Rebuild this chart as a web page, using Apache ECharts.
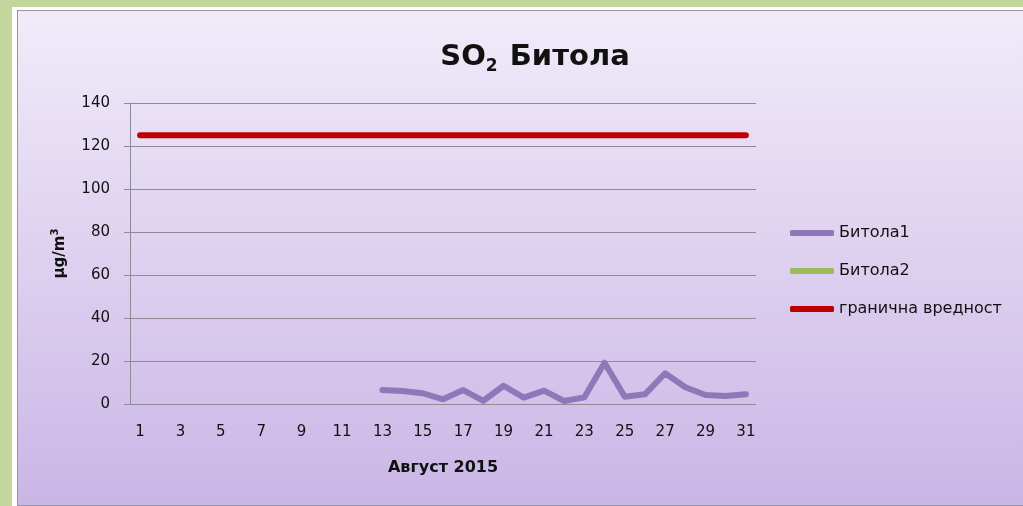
<html>
<head>
    <meta http-equiv="Content-Type" content="text/html; charset=utf-8" />
    <script src="https://cdn.jsdelivr.net/npm/echarts@6/dist/echarts.min.js"></script>
    <style>
        body {
            margin: 0;
            background-color: #c3d69b;
            overflow: hidden;
        }

        .frame {
            position: absolute;
            left: 12px;
            top: 7px;
            width: 1030px;
            height: 497px;
            background-color: #ffffff;
            padding: 3px 0 2px 5px;
        }

        #main {
            border: 1px solid #9a94a4;
            border-right: none;
            width: 1020px;
            height: 494px;
        }
    </style>
    <title></title>
</head>
<body>
    <div class="frame">
        <div id="main"></div>
    </div>
    <script type="text/javascript">

        //数据
        var days = [];
        for (var d = 1; d <= 31; d++) days.push(String(d));
        var bitola1 = [null, null, null, null, null, null, null, null, null, null, null, null,
            6.5, 6, 5, 2.2, 6.5, 1.5, 8.5, 3, 6.2, 1.4, 3.1, 19.2, 3.4, 4.5, 14.3, 7.8, 4.2, 3.7, 4.5];
        var bitola2 = [];
        var limitValue = [125, 125, 125, 125, 125, 125, 125, 125, 125, 125, 125, 125, 125, 125, 125, 125,
            125, 125, 125, 125, 125, 125, 125, 125, 125, 125, 125, 125, 125, 125, 125];
        var yTicks = [0, 20, 40, 60, 80, 100, 120, 140];
        var seriesNames = ['Битола1', 'Битола2', 'гранична вредност'];

        var font = 'DejaVu Sans';

        var option = {
            backgroundColor: {
                type: 'linear', x: 0, y: 0, x2: 0, y2: 1,
                colorStops: [{ offset: 0, color: '#f1ebf9' }, { offset: 1, color: '#cab6e6' }]
            },
            textStyle: { fontFamily: font },
            title: {
                left: 512,
                top: 23,
                textAlign: 'center',
                text: '{a|SO}{b|2}{a| Битола}',
                textStyle: {
                    rich: {
                        a: { fontFamily: font, fontSize: 29, fontWeight: 'bold', color: '#111', lineHeight: 36 },
                        b: { fontFamily: font, fontSize: 17, fontWeight: 'bold', color: '#111', lineHeight: 36, verticalAlign: 'bottom', padding: [14, 2, 0, 0] }
                    }
                }
            },
            legend: {
                orient: 'vertical',
                left: 767,
                top: 209,
                itemGap: 22,
                itemWidth: 44,
                itemHeight: 6,
                icon: 'roundRect',
                data: seriesNames,
                textStyle: { fontFamily: font, fontSize: 16, color: '#111' }
            },
            grid: {
                left: 112,
                top: 92,
                width: 626,
                height: 301
            },
            xAxis: {
                type: 'category',
                data: days,
                boundaryGap: true,
                name: 'Август 2015',
                nameLocation: 'middle',
                nameGap: 56,
                nameTextStyle: { fontFamily: font, fontSize: 16, fontWeight: 'bold', color: '#111' },
                axisLine: { show: false },
                axisTick: { show: false },
                axisLabel: { interval: 1, margin: 21, fontFamily: font, fontSize: 15, color: '#111' }
            },
            yAxis: {
                type: 'value',
                min: yTicks[0],
                max: yTicks[yTicks.length - 1],
                interval: 20,
                name: '{a|μg/m}{b|3}',
                nameLocation: 'middle',
                nameGap: 60,
                nameRotate: 90,
                nameTextStyle: {
                    rich: {
                        a: { fontFamily: font, fontSize: 15, fontWeight: 'bold', color: '#111', lineHeight: 20 },
                        b: { fontFamily: font, fontSize: 10, fontWeight: 'bold', color: '#111', lineHeight: 20, verticalAlign: 'top', padding: [0, 0, 8, 0] }
                    }
                },
                axisLine: { show: true, lineStyle: { color: '#8f8a98', width: 1 } },
                axisTick: { show: true, length: 6, lineStyle: { color: '#8f8a98' } },
                splitLine: { show: true, lineStyle: { color: '#8f8a98', width: 1 } },
                axisLabel: { margin: 20, fontFamily: font, fontSize: 15, color: '#111' }
            },
            series: [
                {
                    name: seriesNames[0],
                    type: 'line',
                    data: bitola1,
                    symbol: 'none',
                    color: '#8e78b7',
                    lineStyle: { width: 6, color: '#8e78b7', cap: 'round', join: 'round' }
                },
                {
                    name: seriesNames[1],
                    type: 'line',
                    data: bitola2,
                    symbol: 'none',
                    color: '#9bbb59',
                    lineStyle: { width: 6, color: '#9bbb59', cap: 'round' }
                },
                {
                    name: seriesNames[2],
                    type: 'line',
                    data: limitValue,
                    symbol: 'none',
                    color: '#c00000',
                    lineStyle: { width: 6, color: '#c00000', cap: 'round' }
                }
            ]
        };

        var myChart = echarts.init(document.getElementById('main'));
        myChart.setOption(option);
    </script>
</body>
</html>
